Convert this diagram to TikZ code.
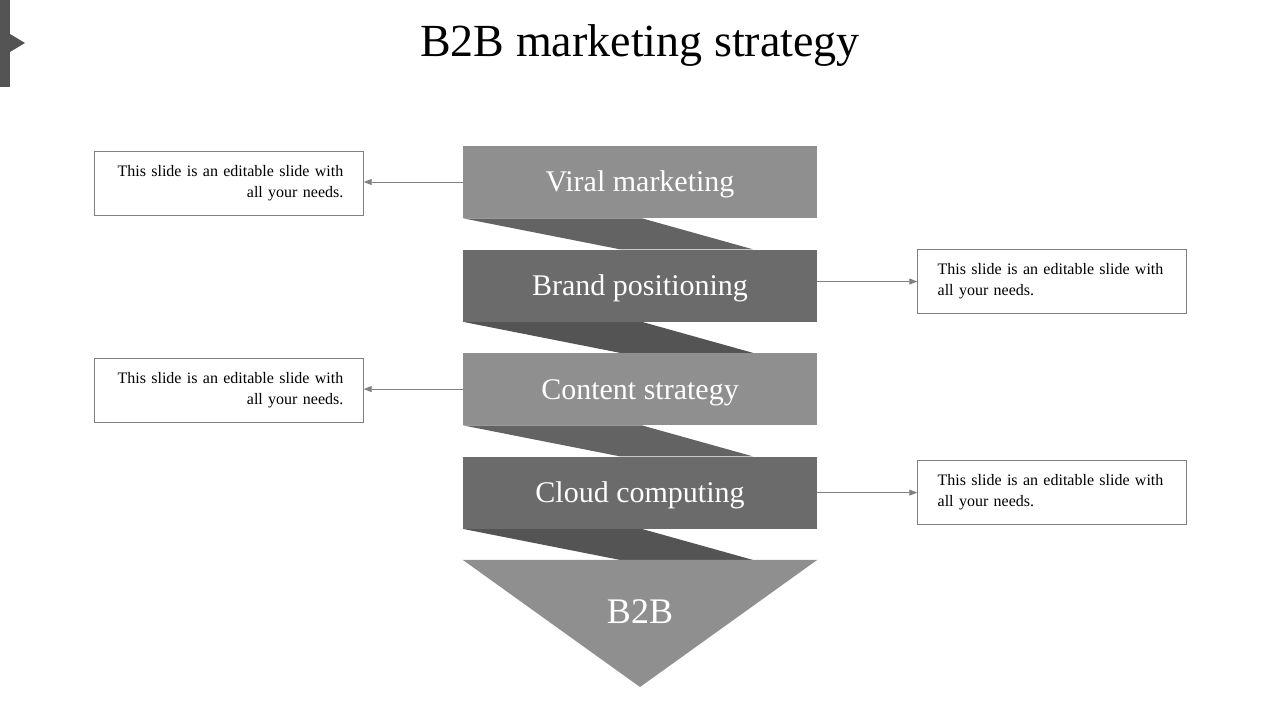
\documentclass[tikz,border=0pt]{standalone}
\usepackage{fontspec}
\setmainfont{Liberation Serif}
\usetikzlibrary{arrows.meta, positioning, calc, backgrounds}
\definecolor{barlight}{HTML}{8F8F8F}
\definecolor{bardark}{HTML}{6B6B6B}
\definecolor{foldlight}{HTML}{636363}
\definecolor{folddark}{HTML}{545454}
\definecolor{lineg}{HTML}{808080}
\tikzstyle{lightbar} = [rectangle, minimum width=265.5pt, minimum height=54pt, inner sep=0pt,
                        text height=20pt, text depth=5pt,
                        fill=barlight, text=white, font=\fontsize{22.5}{27}\selectfont]
\tikzstyle{darkbar}  = [lightbar, fill=bardark]
\tikzstyle{note}     = [rectangle, draw=lineg, line width=0.6pt, minimum width=201.75pt,
                        minimum height=48pt, text width=171.75pt, inner xsep=15pt,
                        font=\fontsize{12}{15.75}\selectfont]
\tikzstyle{noteleft}  = [note, align=right]
\tikzstyle{noteright} = [note, align=left]
\tikzstyle{arrow}    = [-{Triangle[length=6pt, width=4.5pt]}, draw=lineg, line width=0.6pt]

\begin{document}
\begin{tikzpicture}[x=0.75pt, y=-0.75pt, node distance=23.25pt]
    \useasboundingbox (0,0) rectangle (1280,720);
    % tab in the corner
    \fill[folddark] (0,0) rectangle (10,87);
    \fill[folddark] (10,34) -- (25,43) -- (10,52) -- cycle;

    \node (title) at (640,46) {\fontsize{34.5}{40}\selectfont B2B marketing strategy};

    \node (viral) [lightbar] at (640,182) {Viral marketing};
    \node (brand) [darkbar, below=of viral] {Brand positioning};
    \node (content) [lightbar, below=of brand] {Content strategy};
    \node (cloud) [darkbar, below=of content] {Cloud computing};

    \coordinate (tl) at ($(cloud.south west)+(0,31)$);
    \coordinate (tr) at ($(cloud.south east)+(0,31)$);
    \coordinate (apex) at (640,687);
    \fill[barlight] (tl) -- (tr) -- (apex) -- cycle;
    \node (b2b) [text=white, font=\fontsize{27}{32}\selectfont] at (640,612) {B2B};

    % folds between the bars
    \begin{scope}[on background layer]
        \foreach \a/\b/\c in {viral/brand/foldlight, brand/content/folddark, content/cloud/foldlight} {
            \fill[\c] (\a.south west) -- ($(\a.south west)+(179,0)$)
                   -- ($(\b.north west)+(290,0)$) -- ($(\b.north west)+(157,0)$) -- cycle;
        }
        \fill[folddark] (cloud.south west) -- ($(cloud.south west)+(179,0)$)
               -- ($(tl)+(290,0)$) -- ($(tl)+(157,0)$) -- cycle;
    \end{scope}

    \node (note1) [noteleft, left=74.25pt of viral, yshift=-1pt] {This slide is an editable slide with\\ all your needs.};
    \node (note2) [noteright, right=75pt of brand, yshift=3pt] {This slide is an editable slide with\\ all your needs.};
    \node (note3) [noteleft, left=74.25pt of content, yshift=-1pt] {This slide is an editable slide with\\ all your needs.};
    \node (note4) [noteright, right=75pt of cloud] {This slide is an editable slide with\\ all your needs.};

    \draw[arrow] (viral) -- (viral -| note1.east);
    \draw[arrow] (brand.east |- note2.west) -- (note2);
    \draw[arrow] (content) -- (content -| note3.east);
    \draw[arrow] (cloud) -- (note4);
\end{tikzpicture}
\end{document}
